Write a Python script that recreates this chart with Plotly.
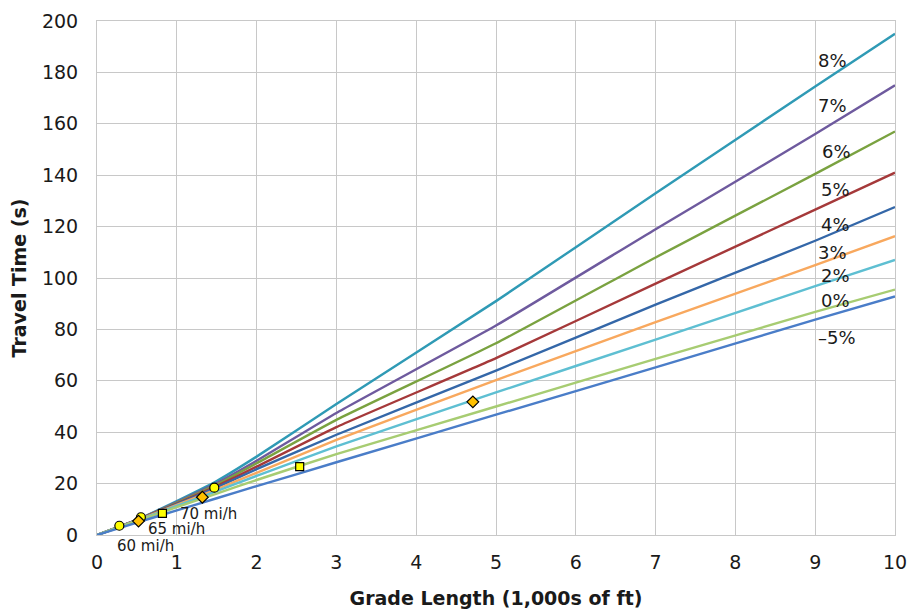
import plotly.graph_objects as go

# ---- data ----
grade_x = [0, 0.5, 1, 1.5, 2, 3, 5, 7, 9, 10]
grade_labels = ["8%", "7%", "6%", "5%", "4%", "3%", "2%", "0%", "\u20135%"]
grade_colors = ["#2F9AB5", "#6E5A9E", "#7AA240", "#A5393A", "#3467A8",
                "#F8A85E", "#5EBFD2", "#A7CC72", "#4A7DC8"]
t_8 = [0, 5.9, 13.2, 21.0, 30.5, 51.0, 91.0, 133.0, 174.5, 195.0]
t_7 = [0, 5.9, 12.8, 20.2, 28.9, 47.5, 81.5, 119.0, 156.0, 175.0]
t_6 = [0, 5.8, 12.5, 19.6, 27.9, 44.8, 74.6, 108.0, 140.5, 157.0]
t_5 = [0, 5.8, 12.2, 19.0, 26.6, 42.0, 68.8, 97.8, 126.6, 141.0]
t_4 = [0, 5.7, 12.0, 18.5, 25.6, 39.0, 64.0, 89.6, 114.5, 127.6]
t_3 = [0, 5.7, 11.7, 17.8, 24.2, 37.0, 60.3, 82.8, 105.0, 116.3]
t_2 = [0, 5.6, 11.3, 17.1, 23.0, 34.5, 55.5, 76.0, 96.8, 107.0]
t_0 = [0, 5.4, 10.8, 16.1, 21.4, 31.5, 50.0, 68.5, 86.8, 95.5]
t_m5 = [0, 4.8, 9.6, 14.3, 19.0, 28.3, 46.8, 65.2, 83.8, 92.8]
series = [t_8, t_7, t_6, t_5, t_4, t_3, t_2, t_0, t_m5]

label_x = [9.22, 9.22, 9.27, 9.25, 9.25, 9.22, 9.25, 9.25, 9.27]
label_y = [184.8, 167.0, 149.4, 134.6, 121.0, 110.0, 100.8, 91.4, 76.7]

circle_x = [0.28, 0.55, 1.47]
circle_y = [3.6, 6.9, 18.4]
diamond_x = [0.52, 1.32, 4.71]
diamond_y = [5.4, 14.7, 51.8]
square_x = [0.82, 2.54]
square_y = [8.4, 26.6]

speed_labels = ["60 mi/h", "65 mi/h", "70 mi/h"]
speed_x = [0.61, 1.0, 1.40]
speed_y = [-4.3, 2.3, 8.3]

x_ticks = list(range(0, 11))
y_ticks = list(range(0, 201, 20))
Y_MAX = 200

fig = go.Figure()

for vals, col, name in zip(series, grade_colors, grade_labels):
    fig.add_trace(go.Scatter(x=grade_x, y=vals, mode="lines", name=name,
                             line=dict(color=col, width=2.4, shape="spline", smoothing=0.4),
                             showlegend=False, hoverinfo="skip"))

mk_line = dict(color="black", width=1.2)
fig.add_trace(go.Scatter(x=circle_x, y=circle_y, mode="markers", showlegend=False,
                         marker=dict(symbol="circle", size=9, color="#FFFF00", line=mk_line),
                         cliponaxis=False))
fig.add_trace(go.Scatter(x=diamond_x, y=diamond_y, mode="markers", showlegend=False,
                         marker=dict(symbol="diamond", size=9, color="#FFC000", line=mk_line),
                         cliponaxis=False))
fig.add_trace(go.Scatter(x=square_x, y=square_y, mode="markers", showlegend=False,
                         marker=dict(symbol="square", size=8, color="#FFFF00", line=mk_line),
                         cliponaxis=False))

annotations = []
for lx, ly, txt in zip(label_x, label_y, grade_labels):
    annotations.append(dict(x=lx, y=ly, xref="x", yref="y", text=txt, showarrow=False,
                            xanchor="center", yanchor="middle",
                            font=dict(family="DejaVu Sans", size=18, color="#1a1a1a")))
for sx, sy, txt in zip(speed_x, speed_y, speed_labels):
    annotations.append(dict(x=sx, y=sy / Y_MAX, xref="x", yref="paper", text=txt, showarrow=False,
                            xanchor="center", yanchor="middle",
                            font=dict(family="DejaVu Sans", size=15, color="#1a1a1a")))

fig.update_layout(
    width=915, height=612,
    margin=dict(l=89, r=28, t=13, b=85),
    paper_bgcolor="white", plot_bgcolor="white",
    annotations=annotations,
    font=dict(family="DejaVu Sans", color="#1a1a1a"),
)
fig.update_xaxes(range=[0, 10], tickvals=x_ticks, showgrid=True, gridcolor="#C8C8C8", gridwidth=1,
                 showline=True, linecolor="#C8C8C8", linewidth=1, mirror=True, zeroline=False,
                 automargin=False, ticklabelstandoff=10,
                 ticks="", tickfont=dict(family="DejaVu Sans", size=19, color="#1a1a1a"),
                 title=dict(text="<b>Grade Length (1,000s of ft)</b>", standoff=19,
                            font=dict(family="DejaVu Sans", size=19, color="#1a1a1a")))
fig.update_yaxes(range=[0, Y_MAX], tickvals=y_ticks, showgrid=True, gridcolor="#C8C8C8", gridwidth=1,
                 showline=True, linecolor="#C8C8C8", linewidth=1, mirror=True, zeroline=False,
                 automargin=False, ticklabelstandoff=14,
                 ticks="", tickfont=dict(family="DejaVu Sans", size=19, color="#1a1a1a"),
                 title=dict(text="<b>Travel Time (s)</b>", standoff=14,
                            font=dict(family="DejaVu Sans", size=19, color="#1a1a1a")))

fig.write_html("out.html")
